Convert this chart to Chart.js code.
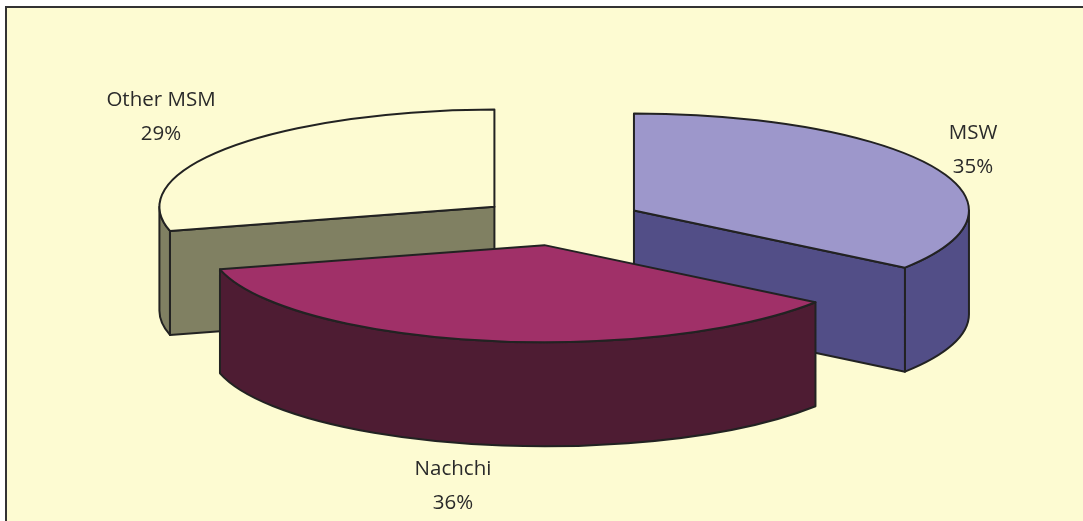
<!DOCTYPE html>
<html>
<head>
<meta charset="utf-8">
<title>Pie</title>
<script src="https://cdn.jsdelivr.net/npm/chart.js@4/dist/chart.umd.min.js"></script>
<style>
  html, body { margin: 0; padding: 0; background: #fff; overflow: hidden; }
  #marco { position: absolute; left: 5px; top: 6px; right: 0; bottom: 0; background: #fdfbd2; border-left: 2px solid #333; border-top: 2px solid #333; }
  canvas { position: absolute; left: 0; top: 0; }
</style>
</head>
<body>
<div id="marco"></div>
<canvas id="grafico" width="1083" height="521"></canvas>
<script>
// datos del grafico
const categorias = ['MSW', 'Nachchi', 'Other MSM'];
const porcentajes = [35, 36, 29];

// colores: cara superior y paredes
const coloresTapa = ['#9d97cb', '#a03068', '#fdfbd2'];
const coloresPared = ['#524e87', '#4e1c33', '#808062'];

// perspectiva del pastel
const aplastado = 0.29;
const profundidad = 104;
const separacion = 83;

// posicion del texto de cada porcion [x centro, y primera linea]
const posicionTextos = [[973, 133], [453, 469], [161, 100]];
const saltoLinea = 34;

const colorLinea = '#222';

function pintarPared(ctx, x, y, r, desde, hasta, color) {
    // pared curva exterior, solo la mitad que mira hacia delante
    const a = Math.max(desde, 0);
    const b = Math.min(hasta, Math.PI);
    if (b <= a) return;
    ctx.beginPath();
    ctx.ellipse(x, y, r, r * aplastado, 0, a, b);
    ctx.ellipse(x, y + profundidad, r, r * aplastado, 0, b, a, true);
    ctx.closePath();
    ctx.fillStyle = color;
    ctx.fill();
    ctx.stroke();
}

function pintarRadial(ctx, x, y, r, angulo, color) {
    const px = x + Math.cos(angulo) * r;
    const py = y + Math.sin(angulo) * r * aplastado;
    ctx.beginPath();
    ctx.moveTo(x, y);
    ctx.lineTo(px, py);
    ctx.lineTo(px, py + profundidad);
    ctx.lineTo(x, y + profundidad);
    ctx.closePath();
    ctx.fillStyle = color;
    ctx.fill();
    ctx.stroke();
}

function pintarPorcion(ctx, arco, color) {
    const medio = (arco.startAngle + arco.endAngle) / 2;
    const r = arco.outerRadius;
    const x = arco.x + Math.cos(medio) * separacion;
    const y = arco.y + Math.sin(medio) * separacion * aplastado;

    ctx.lineWidth = 2;
    ctx.strokeStyle = colorLinea;
    ctx.lineJoin = 'round';

    // caras laterales que quedan a la vista
    if (Math.cos(arco.endAngle) > 0.001) pintarRadial(ctx, x, y, r, arco.endAngle, color);
    if (Math.cos(arco.startAngle) < -0.001) pintarRadial(ctx, x, y, r, arco.startAngle, color);
    pintarPared(ctx, x, y, r, arco.startAngle, arco.endAngle, color);

    // la tapa la dibuja el propio arco de Chart.js
    ctx.save();
    ctx.translate(0, arco.y);
    ctx.scale(1, aplastado);
    ctx.translate(0, -arco.y);
    ctx.translate(Math.cos(medio) * separacion, Math.sin(medio) * separacion);
    arco.draw(ctx);
    ctx.restore();

    // contorno de la tapa sin deformar el grosor
    ctx.beginPath();
    ctx.moveTo(x, y);
    ctx.ellipse(x, y, r, r * aplastado, 0, arco.startAngle, arco.endAngle);
    ctx.closePath();
    ctx.stroke();
}

const pastel3d = {
    id: 'pastel3d',
    beforeDatasetDraw(chart, args) {
        const ctx = chart.ctx;
        const arcos = args.meta.data.map((arco, i) => ({ arco, i }));
        // primero las porciones de atras
        arcos.sort((a, b) => {
            const ma = (a.arco.startAngle + a.arco.endAngle) / 2;
            const mb = (b.arco.startAngle + b.arco.endAngle) / 2;
            return Math.sin(ma) - Math.sin(mb);
        });
        arcos.forEach(({ arco, i }) => pintarPorcion(ctx, arco, coloresPared[i]));
        return false;
    },
    afterDraw(chart) {
        const ctx = chart.ctx;
        ctx.save();
        ctx.fillStyle = '#2a2a2a';
        ctx.font = '20.5px "Open Sans"';
        ctx.textAlign = 'center';
        ctx.textBaseline = 'middle';
        categorias.forEach((nombre, i) => {
            const [x, y] = posicionTextos[i];
            ctx.fillText(nombre, x, y);
            ctx.fillText(porcentajes[i] + '%', x, y + saltoLinea);
        });
        ctx.restore();
    }
};

window.onload = function() {
    new Chart(document.getElementById('grafico').getContext('2d'), {
        type: 'pie',
        data: {
            labels: categorias,
            datasets: [{
                data: porcentajes,
                backgroundColor: coloresTapa,
                borderWidth: 0
            }]
        },
        options: {
            responsive: false,
            animation: false,
            radius: 335,
            layout: { padding: { left: 37, bottom: 78 } },
            events: [],
            plugins: {
                legend: { display: false },
                tooltip: { enabled: false }
            }
        },
        plugins: [pastel3d]
    });
};
</script>
</body>
</html>
